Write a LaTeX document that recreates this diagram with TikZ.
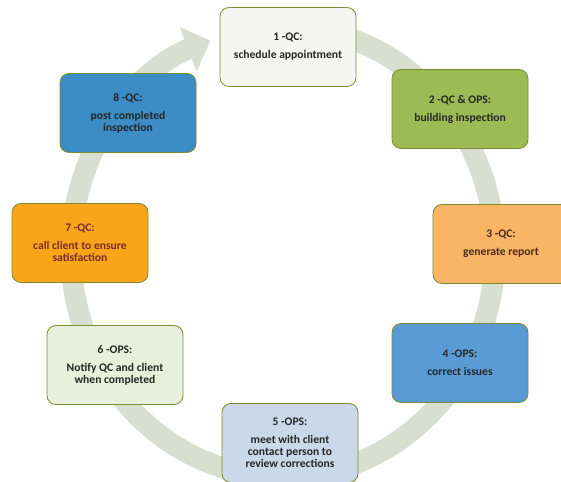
\documentclass[tikz,border=0pt]{standalone}
\usepackage{fontspec}
\setmainfont{Carlito}
\usetikzlibrary{arrows.meta}
\definecolor{ringc}{HTML}{D9DFD0}
\definecolor{edgec}{HTML}{7D8C2E}
\definecolor{fa}{HTML}{F5F5F2}
\definecolor{fb}{HTML}{9DBB55}
\definecolor{fc}{HTML}{F9B565}
\definecolor{fd}{HTML}{5B9BD5}
\definecolor{fe}{HTML}{CBD8EA}
\definecolor{ff}{HTML}{E8EFDA}
\definecolor{fg}{HTML}{F9A51A}
\definecolor{fh}{HTML}{3C8DC5}
\definecolor{txt}{HTML}{262626}
\definecolor{txtred}{HTML}{7B2B2B}
\definecolor{txtbrown}{HTML}{4A2A1A}
\begin{document}
\begin{tikzpicture}[x=1pt,y=1pt,
  stepbox/.style={draw=edgec, line width=0.8pt, rounded corners=9pt,
    minimum width=136pt, minimum height=79pt, align=center, text=txt,
    font=\fontsize{11.6}{12}\selectfont\bfseries, inner sep=2pt},
  ring/.style={draw=ringc, line width=21pt,
    -{Triangle[width=46pt,length=24pt]}}]
\useasboundingbox (0,0) rectangle (561,481);
\fill[white] (0,0) rectangle (561,481);
% cycle ring
\coordinate (ctr) at (283,229);
\draw[ring] (ctr) ++(80:212pt and 225pt) coordinate (rs)
  arc[start angle=80, end angle=-250, x radius=212pt, y radius=225pt];
% steps
\node[stepbox, fill=fa] (s1) at (288,434) {1 -QC:\\[6pt]schedule appointment};
\node[stepbox, fill=fb] (s2) at (460,372) {2 -QC \& OPS:\\[6pt]building inspection};
\node[stepbox, fill=fc, text=txtbrown] (s3) at (501,237) {3 -QC:\\[6pt]generate report};
\node[stepbox, fill=fd] (s4) at (460,118) {4 -OPS:\\[6pt]correct issues};
\node[stepbox, fill=fe] (s5) at (290,38) {5 -OPS:\\[6pt]meet with client\\contact person to\\review corrections};
\node[stepbox, fill=ff] (s6) at (115,116) {6 -OPS:\\[6pt]Notify QC and client\\when completed};
\node[stepbox, fill=fg, text=txtred] (s7) at (80,238) {7 -QC:\\[6pt]call client to ensure\\satisfaction};
\node[stepbox, fill=fh] (s8) at (128,368) {8 -QC:\\[6pt]post completed\\inspection};
\end{tikzpicture}
\end{document}
